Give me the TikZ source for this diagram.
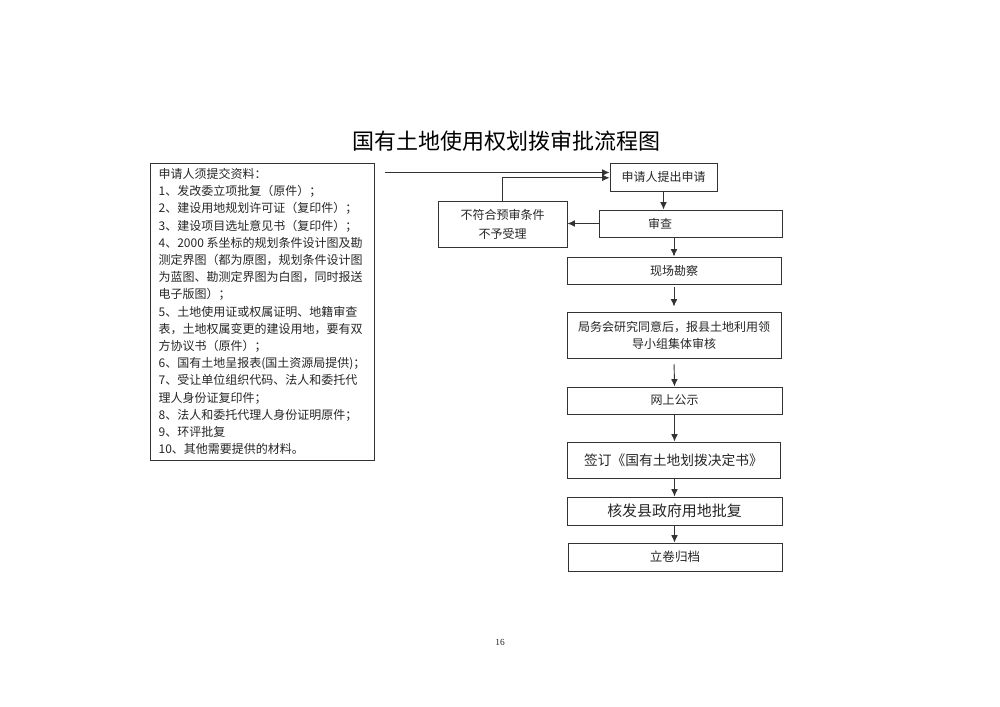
\documentclass[tikz,border=0pt]{standalone}
\usepackage{fontspec}
\setmainfont{Liberation Serif}
\newfontfamily\cjk{Noto Sans CJK SC}
\usetikzlibrary{arrows.meta}
\tikzset{
  sz/.style 2 args={minimum width=#1*0.75pt, minimum height=#2*0.75pt},
  box/.style={draw=black!80, line width=0.7pt, inner sep=0pt, text=black!85, align=center,
              font=\cjk\fontsize{9}{12.75}\selectfont},
  plain/.style={inner sep=0pt, text=black!85},
  arr/.style={draw=black!80, line width=0.7pt, -{Latex[length=5.5pt,width=5pt]}},
}
\begin{document}
\begin{tikzpicture}[x=0.75pt,y=-0.75pt]
\fill[white] (0,0) rectangle (1000,707);
\useasboundingbox (0,0) rectangle (1000,707);

\node[plain, text=black, font=\cjk\fontsize{16.5}{20}\selectfont] (title) at (506,141) {国有土地使用权划拨审批流程图};

\node[box, sz={224}{297}, align=left, font=\cjk\fontsize{9}{12.9}\selectfont] (docs) at (262,311.5) {%
申请人须提交资料：\\
1、发改委立项批复（原件）；\\
2、建设用地规划许可证（复印件）；\\
3、建设项目选址意见书（复印件）；\\
4、2000 系坐标的规划条件设计图及勘\\
测定界图（都为原图，规划条件设计图\\
为蓝图、勘测定界图为白图，同时报送\\
电子版图）；\\
5、土地使用证或权属证明、地籍审查\\
表，土地权属变更的建设用地，要有双\\
方协议书（原件）；\\
6、国有土地呈报表(国土资源局提供)；\\
7、受让单位组织代码、法人和委托代\\
理人身份证复印件；\\
8、法人和委托代理人身份证明原件；\\
9、环评批复\\
10、其他需要提供的材料。};

\node[box, sz={107}{28}] (apply) at (663.5,177) {申请人提出申请};
\node[box, sz={183}{27}] (review) at (690.5,223.5) {};
\node[plain, font=\cjk\fontsize{9}{12}\selectfont] (reviewtext) at (660,223.5) {审查};
\node[box, sz={214}{27}] (site) at (674,270.5) {现场勘察};
\node[box, sz={214}{46}] (meeting) at (674,335) {局务会研究同意后，报县土地利用领\\导小组集体审核};
\node[box, sz={215}{27}] (online) at (674.5,400.5) {网上公示};
\node[box, sz={213}{36}, font=\cjk\fontsize{10.3}{12}\selectfont] (sign) at (673.5,460) {签订《国有土地划拨决定书》};
\node[box, sz={215}{28}, font=\cjk\fontsize{11.2}{13}\selectfont] (approve) at (674.5,511) {核发县政府用地批复};
\node[box, sz={214}{28}, font=\cjk\fontsize{9.4}{12}\selectfont] (archive) at (675,557) {立卷归档};

\node[box, sz={129}{46}, font=\cjk\fontsize{9}{14.25}\selectfont] (reject) at (502.5,224) {不符合预审条件\\不予受理};

\node[plain, font=\fontsize{7}{8}\selectfont] (pageno) at (500,642) {16};

% connectors
\coordinate (src) at (385,172.5);
\draw[arr] (src) -- (src -| apply.west);
\draw[arr] (reject.north) |- ([yshift=-0.6pt]apply.west);
\draw[arr] (review.west) -- (review.west -| reject.east);
\draw[arr] (apply.south) -- (apply.south |- review.north);
\draw[arr] (review.south -| site.north) -- (site.north);
\draw[arr, shorten <=2.25pt, shorten >=3.75pt] (site.south) -- (meeting.north);
\draw[arr, shorten <=4.5pt] (meeting.south) -- (online.north);
\draw[arr] (online.south) -- (online.south |- sign.north);
\draw[arr] (sign.south -| approve.north) -- (approve.north);
\draw[arr] (approve.south) -- (approve.south |- archive.north);
\end{tikzpicture}
\end{document}
